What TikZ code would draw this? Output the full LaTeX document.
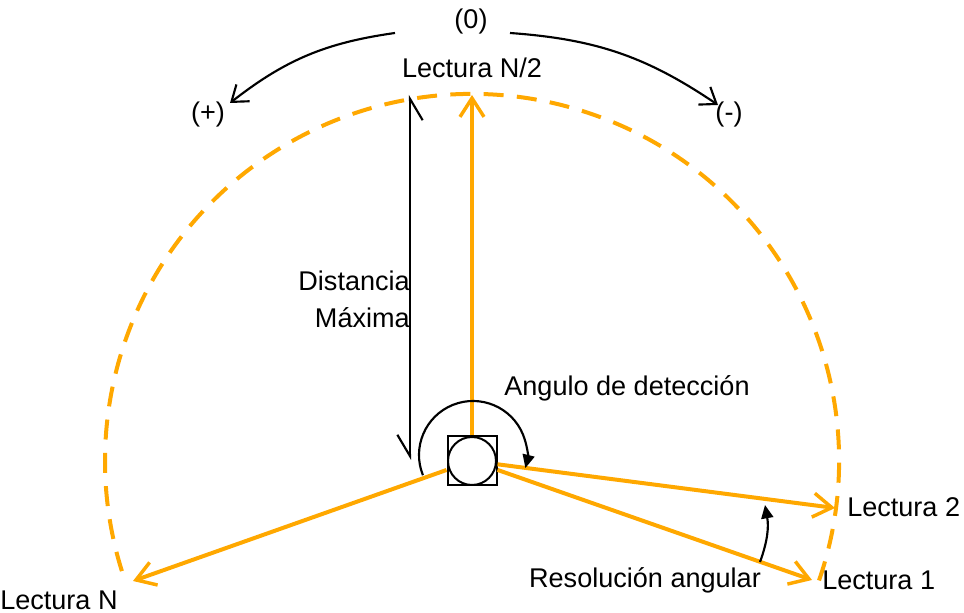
\documentclass[tikz,border=0pt]{standalone}
\usepackage{fontspec}
\setmainfont{Liberation Sans}
\usetikzlibrary{arrows.meta}
\definecolor{rayo}{RGB}{255,168,0}
\tikzset{
  lbl/.style={font=\fontsize{20.3}{28}\selectfont, inner sep=0pt},
  rayline/.style={rayo, line width=3pt, -{Straight Barb[length=14pt, width=18pt, line width=2.6pt]}},
  giro/.style={black, line width=1.6pt, -{Straight Barb[length=11pt, width=16pt, line width=1.6pt]}},
  angarrow/.style={black, line width=1.6pt, -{Triangle[length=10pt, width=9pt]}}
}
\begin{document}
\begin{tikzpicture}[x=0.75pt, y=0.75pt]
\useasboundingbox (0,0) rectangle (964,613);

\def \R{367}

% alcance del sensor
\draw[rayo, line width=3pt, dash pattern=on 15pt off 10pt] (472,152) ++(-19:\R) arc[start angle=-19, end angle=199, radius=\R];

\coordinate (top) at (472,518);
\coordinate (l2) at (835,105);
\coordinate (l1) at (812,33);
\coordinate (ln) at (133,32);

\node[draw, line width=1.5pt, minimum size=36.75pt, inner sep=0pt] (S) at (472,152) {};
\node[draw, circle, line width=1.5pt, minimum size=36pt, inner sep=0pt] (C) at (472,152) {};

\draw[rayline] (S) -- (top);
\draw[rayline] (S) -- (l2);
\draw[rayline] (S) -- (l1);
\draw[rayline] (S) -- (ln);

\node[lbl] (n2) at (472,545) {Lectura N/2};
\node[lbl, anchor=west] (t2) at (847,106) {Lectura 2};
\node[lbl, anchor=west] (t1) at (822,33) {Lectura 1};
\node[lbl, anchor=west] (tn) at (0,13) {Lectura N};

% distancia maxima
\coordinate (dtop) at (410,518);
\coordinate (dbot) at (410,153);
\draw[line width=1.6pt, {Straight Barb[harpoon, swap, length=16pt, width=19pt, line width=1.6pt]}-{Straight Barb[harpoon, swap, length=16pt, width=19pt, line width=1.6pt]}] (dtop) -- (dbot);
\node[lbl, anchor=east, align=right] (dist) at (410,314) {Distancia\\Máxima};

% angulo de deteccion
\draw[angarrow] (473,158) ++(202:54) arc[start angle=202, end angle=-14, radius=54];
\node[lbl] (ang) at (627,225) {Angulo de detección};

% resolucion angular
\coordinate (ra) at (760,51);
\coordinate (rb) at (765,108);
\draw[angarrow] (ra) to[bend right=15] (rb);
\node[lbl] (res) at (645,33) {Resolución angular};

% sentido de giro
\node[lbl] (cero) at (471,591) {(0)};
\node[lbl] (mas) at (208,498) {(+)};
\node[lbl] (menos) at (729,498) {(-)};
\coordinate (ga) at (395,580);
\coordinate (gb) at (230,510);
\coordinate (gc) at (510,580);
\coordinate (gd) at (718,508);
\draw[giro] (ga) to[bend right=15] (gb);
\draw[giro] (gc) to[bend left=15] (gd);

\end{tikzpicture}
\end{document}
